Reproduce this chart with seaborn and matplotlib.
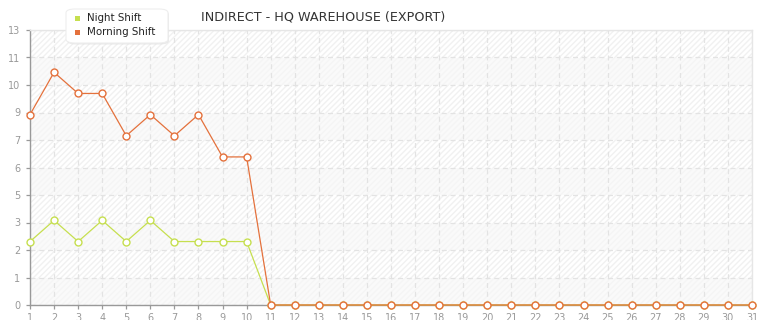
import numpy as np
import pandas as pd
import matplotlib
matplotlib.use("Agg")
import matplotlib.pyplot as plt
import seaborn as sns
from matplotlib.patches import FancyBboxPatch

days = list(range(1, 32))
night_shift = [3, 4, 3, 4, 3, 4, 3, 3, 3, 3] + [0] * 21
morning_shift = [9, 11, 10, 10, 8, 9, 8, 9, 7, 7] + [0] * 21
series_names = ["Night Shift", "Morning Shift"]
y_tick_labels = ["0", "1", "2", "3", "5", "6", "7", "9", "10", "11", "13"]
y_max = 13
title = "INDIRECT - HQ WAREHOUSE (EXPORT)"

colors = {"Night Shift": "#c6df4f", "Morning Shift": "#e4713c"}

df = pd.concat([
    pd.DataFrame({"day": days, "value": night_shift, "series": "Night Shift"}),
    pd.DataFrame({"day": days, "value": morning_shift, "series": "Morning Shift"}),
])

sns.set_theme(style="white")
plt.rcParams["font.family"] = ["DejaVu Sans"]

fig = plt.figure(figsize=(7.65, 3.2), dpi=100)
ax = fig.add_axes([30 / 765, 15 / 320, 722 / 765, 275 / 320])

yticks = np.linspace(0, y_max, len(y_tick_labels))
# background bands
for i in range(len(yticks) - 1):
    if i % 2 == 1:
        ax.axhspan(yticks[i], yticks[i + 1], facecolor="#ffffff", edgecolor="#f1f1f1",
                   hatch="//////", linewidth=0, zorder=0)
    else:
        ax.axhspan(yticks[i], yticks[i + 1], facecolor="#fafafa", edgecolor="#f5f5f5",
                   hatch="//////", linewidth=0, zorder=0)

sns.lineplot(data=df, x="day", y="value", hue="series", hue_order=series_names,
             palette=colors, marker="o", markersize=5, markerfacecolor="white",
             markeredgewidth=1.0, linewidth=0.9, legend=False, ax=ax, zorder=3)
for line, name in zip(ax.get_lines(), series_names):
    line.set_markeredgecolor(colors[name])
    line.set_clip_on(False)

ax.set_xlim(1, 31)
ax.set_ylim(0, y_max)
ax.set_xticks(days)
ax.set_xticklabels([str(d) for d in days])
ax.set_yticks(yticks)
ax.set_yticklabels(y_tick_labels)
ax.set_xlabel("")
ax.set_ylabel("")

ax.grid(True, color="#e3e3e3", linestyle=(0, (4, 3)), linewidth=0.9, zorder=1)
ax.set_axisbelow(True)
ax.tick_params(axis="both", labelsize=7, colors="#999999", length=3, width=0.9,
               direction="out", pad=3)
ax.tick_params(axis="y", pad=4)
ax.tick_params(left=True, bottom=True)
for side in ["left", "bottom"]:
    ax.spines[side].set_color("#999999")
    ax.spines[side].set_linewidth(1.0)
for side in ["top", "right"]:
    ax.spines[side].set_color("#e6e6e6")
    ax.spines[side].set_linewidth(1.0)

fig.text(323 / 765, 1 - 17 / 320, title, ha="center", va="center",
         fontsize=9.2, color="#333333")

# legend box
box = FancyBboxPatch((66 / 765, 1 - 43 / 320), 102 / 765, 34 / 320,
                     boxstyle="round,pad=0,rounding_size=0.012",
                     transform=fig.transFigure, facecolor="white",
                     edgecolor="#eeeeee", linewidth=0.8, zorder=10)
shadow = FancyBboxPatch((67 / 765, 1 - 44.5 / 320), 102 / 765, 34 / 320,
                        boxstyle="round,pad=0,rounding_size=0.012",
                        transform=fig.transFigure, facecolor="#dddddd",
                        edgecolor="none", alpha=0.6, zorder=9)
fig.patches.extend([shadow, box])
for i, name in enumerate(series_names):
    yy = 1 - (18 + i * 14) / 320
    fig.patches.append(plt.Rectangle((75 / 765, yy - 2.5 / 320), 5 / 765, 5 / 320,
                                     transform=fig.transFigure, facecolor=colors[name],
                                     edgecolor="none", zorder=11))
    fig.text(87 / 765, yy, name, ha="left", va="center", fontsize=7.4,
             color="#222222", zorder=12)

fig.savefig("out.png", dpi=100)
